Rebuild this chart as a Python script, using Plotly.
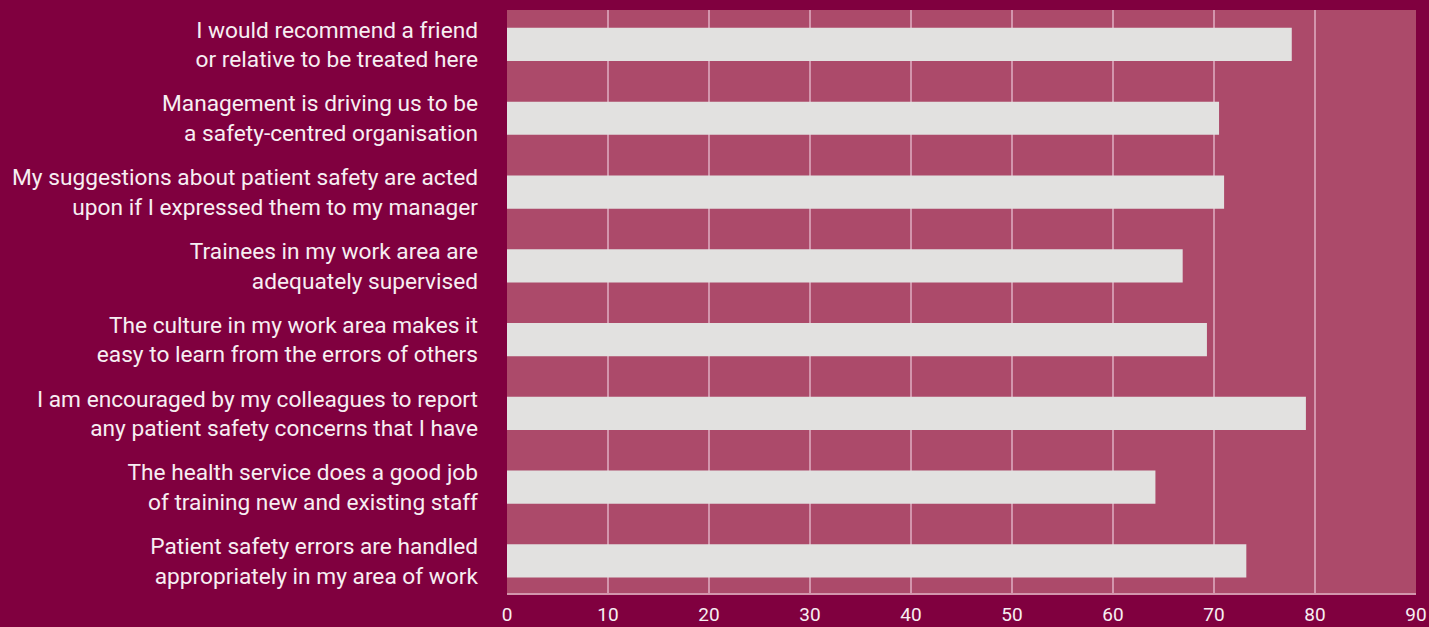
import plotly.graph_objects as go

statements = [
    "I would recommend a friend<br>or relative to be treated here",
    "Management is driving us to be<br>a safety-centred organisation",
    "My suggestions about patient safety are acted<br>upon if I expressed them to my manager",
    "Trainees in my work area are<br>adequately supervised",
    "The culture in my work area makes it<br>easy to learn from the errors of others",
    "I am encouraged by my colleagues to report<br>any patient safety concerns that I have",
    "The health service does a good job<br>of training new and existing staff",
    "Patient safety errors are handled<br>appropriately in my area of work",
]
scores = [77.7, 70.5, 71.0, 66.9, 69.3, 79.1, 64.2, 73.2]
x_ticks = [0, 10, 20, 30, 40, 50, 60, 70, 80, 90]

PAPER = "#80003f"
PLOT_BG = "#ac4a6a"
BAR = "#e2e1e0"
GRID = "#d395ac"
TEXT = "#f7eef2"
FONT = "Roboto"

fig = go.Figure(
    go.Bar(
        x=scores,
        y=statements,
        orientation="h",
        width=0.45,
        marker=dict(color=BAR, line=dict(width=0)),
        hoverinfo="x+y",
    )
)

n = len(statements)
fig.update_layout(
    width=1429,
    height=627,
    margin=dict(l=507, r=13, t=10, b=34, autoexpand=False),
    paper_bgcolor=PAPER,
    plot_bgcolor=PLOT_BG,
    showlegend=False,
    font=dict(family=FONT, color=TEXT),
)
fig.update_xaxes(
    range=[0, 90],
    tickvals=x_ticks,
    ticktext=[str(v) for v in x_ticks],
    showgrid=True,
    gridcolor=GRID,
    gridwidth=1.5,
    zeroline=False,
    showline=True,
    linecolor=GRID,
    linewidth=1.5,
    ticks="",
    ticklabelstandoff=3,
    tickfont=dict(size=19, color=TEXT, family=FONT),
    automargin=False,
    fixedrange=True,
)
fig.update_yaxes(
    type="category",
    range=[n - 1 + 0.434, -0.467],
    showgrid=False,
    zeroline=False,
    showline=False,
    ticks="",
    ticklabelstandoff=28,
    tickfont=dict(size=22.7, color=TEXT, family=FONT),
    automargin=False,
    fixedrange=True,
)

fig.write_html("out.html")
